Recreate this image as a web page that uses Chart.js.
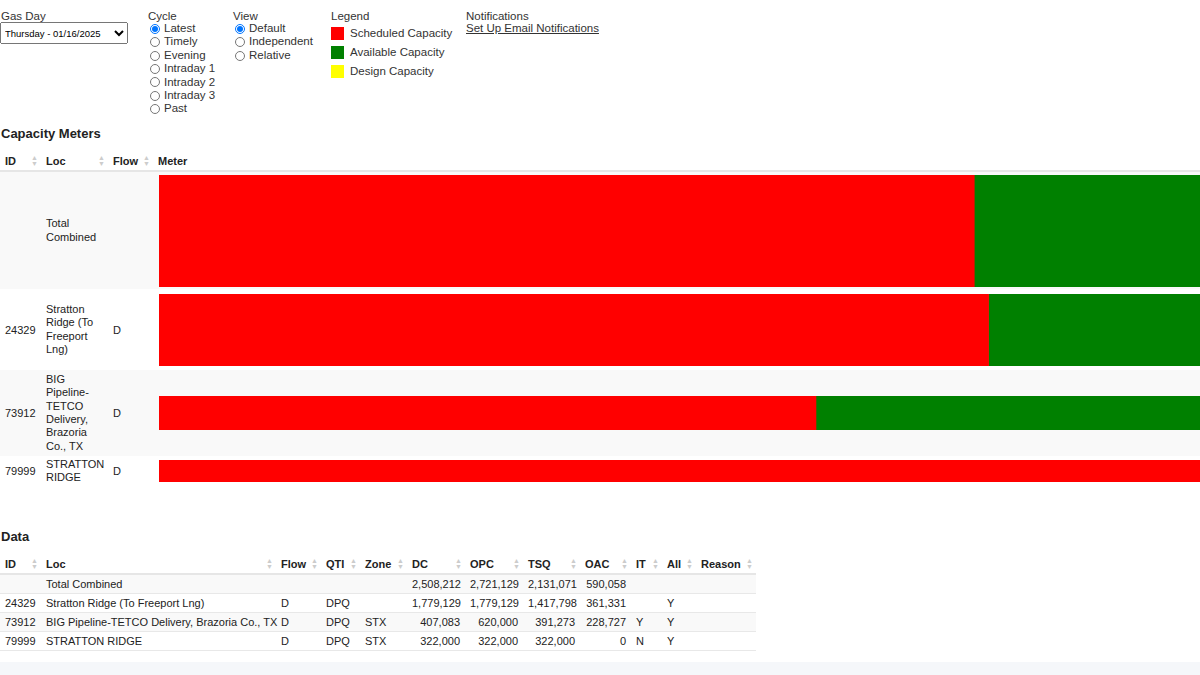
<!DOCTYPE html>
<html>
<head>
<meta charset="utf-8">
<script src="https://cdn.jsdelivr.net/npm/chart.js@4/dist/chart.umd.min.js"></script>
<style>
  body { margin: 0; font-family: "Liberation Sans", Arial, sans-serif; font-size: 11px; color: #222; width: 1200px; height: 675px; overflow: hidden; position: relative; background: #fff; }
  .abs { position: absolute; }
  .lbl { font-size: 11.5px; color: #333; }
  .opt { font-size: 11.5px; color: #333; line-height: 13.4px; display: flex; align-items: center; }
  .opt input { margin: 0 4px 0 2px; width: 10px; height: 10px; }
  select { font-size: 9.5px; width: 128px; height: 22px; font-family: inherit; }
  .sw { display: inline-block; width: 13px; height: 13px; margin-right: 6px; vertical-align: middle; }
  h3 { margin: 0; font-size: 13px; font-weight: bold; }
  table { border-collapse: collapse; table-layout: fixed; }
  th { text-align: left; font-weight: bold; font-size: 11px; padding: 0 5px; height: 18px; border-bottom: 2px solid #e6e6e6; position: relative; overflow: visible; }
  th .ar { position: absolute; right: 3px; top: 3px; color: #ccc; font-size: 7px; line-height: 6px; }
  td { font-size: 11px; padding: 0 5px; white-space: nowrap; }
  .striped { background: #f9f9f9; }
  #meters td { border-bottom: 2px solid #fff; vertical-align: middle; white-space: normal; }
  #data td { height: 18px; border-bottom: 1px solid #e8e8e8; }
  #data td.n { text-align: right; }
</style>
</head>
<body>
<div class="abs lbl" style="left:1px;top:10px">Gas Day</div>
<div class="abs" style="left:0;top:22px"><select><option>Thursday - 01/16/2025</option></select></div>

<div class="abs" style="left:148px;top:10px">
  <div class="lbl">Cycle</div>
  <div id="cycles"></div>
</div>
<div class="abs" style="left:233px;top:10px">
  <div class="lbl">View</div>
  <div id="views"></div>
</div>
<div class="abs" style="left:331px;top:10px">
  <div class="lbl">Legend</div>
  <div style="margin-top:2px;font-size:11.5px;color:#333;line-height:19px">
    <div><span class="sw" style="background:#ff0000"></span>Scheduled Capacity</div>
    <div><span class="sw" style="background:#008000"></span>Available Capacity</div>
    <div><span class="sw" style="background:#ffff00"></span>Design Capacity</div>
  </div>
</div>
<div class="abs" style="left:466px;top:10px">
  <div class="lbl">Notifications</div>
  <div class="lbl" style="text-decoration:underline">Set Up Email Notifications</div>
</div>

<h3 class="abs" style="left:1px;top:126px">Capacity Meters</h3>
<table id="meters" class="abs" style="left:0;top:152px;width:1220px">
  <colgroup><col style="width:41px"><col style="width:67px"><col style="width:45px"><col></colgroup>
  <thead><tr>
    <th>ID<span class="ar">▲<br>▼</span></th>
    <th>Loc<span class="ar">▲<br>▼</span></th>
    <th>Flow<span class="ar">▲<br>▼</span></th>
    <th>Meter</th>
  </tr></thead>
  <tbody id="meterBody"></tbody>
</table>

<h3 class="abs" style="left:1px;top:529px">Data</h3>
<table id="data" class="abs" style="left:0;top:555px;width:756px">
  <colgroup>
    <col style="width:41px"><col style="width:235px"><col style="width:45px"><col style="width:39px">
    <col style="width:47px"><col style="width:58px"><col style="width:58px"><col style="width:57px">
    <col style="width:51px"><col style="width:31px"><col style="width:34px"><col style="width:60px">
  </colgroup>
  <thead><tr>
    <th>ID<span class="ar">▲<br>▼</span></th>
    <th>Loc<span class="ar">▲<br>▼</span></th>
    <th>Flow<span class="ar">▲<br>▼</span></th>
    <th>QTI<span class="ar">▲<br>▼</span></th>
    <th>Zone<span class="ar">▲<br>▼</span></th>
    <th>DC<span class="ar">▲<br>▼</span></th>
    <th>OPC<span class="ar">▲<br>▼</span></th>
    <th>TSQ<span class="ar">▲<br>▼</span></th>
    <th>OAC<span class="ar">▲<br>▼</span></th>
    <th>IT<span class="ar">▲<br>▼</span></th>
    <th>All<span class="ar">▲<br>▼</span></th>
    <th>Reason<span class="ar">▲<br>▼</span></th>
  </tr></thead>
  <tbody id="dataBody"></tbody>
</table>
<div class="abs" style="left:0;top:662px;width:1200px;height:13px;background:#f5f7fa"></div>

<script>
// ================= DATA =================
const ids = ["", "24329", "73912", "79999"];
const locs = ["Total Combined", "Stratton Ridge (To Freeport Lng)", "BIG Pipeline-TETCO Delivery, Brazoria Co., TX", "STRATTON RIDGE"];
const meterLocs = ["Total<br>Combined", "Stratton<br>Ridge (To<br>Freeport<br>Lng)", "BIG<br>Pipeline-<br>TETCO<br>Delivery,<br>Brazoria<br>Co., TX", "STRATTON<br>RIDGE"];
const flows = ["", "D", "D", "D"];
const qtis = ["", "DPQ", "DPQ", "DPQ"];
const zones = ["", "", "STX", "STX"];
const dc = [2508212, 1779129, 407083, 322000];
const opc = [2721129, 1779129, 620000, 322000];
const tsq = [2131071, 1417798, 391273, 322000];
const oac = [590058, 361331, 228727, 0];
const its = ["", "", "Y", "N"];
const alls = ["", "Y", "Y", "Y"];

// row layout for meter rows
const rowHeights = [119, 79, 88, 28];
const barHeights = [112, 72, 34, 22];

// ================= CONTROLS =================
const cycles = ["Latest", "Timely", "Evening", "Intraday 1", "Intraday 2", "Intraday 3", "Past"];
document.getElementById("cycles").innerHTML = cycles.map((c, i) =>
  `<div class="opt"><input type="radio" name="cy" ${i == 0 ? "checked" : ""}>${c}</div>`).join("");
const views = ["Default", "Independent", "Relative"];
document.getElementById("views").innerHTML = views.map((c, i) =>
  `<div class="opt"><input type="radio" name="vw" ${i == 0 ? "checked" : ""}>${c}</div>`).join("");

// ================= METERS =================
const fmt = n => n.toLocaleString("en-US");
let mb = "";
ids.forEach((id, i) => {
  mb += `<tr class="${i % 2 == 0 ? "striped" : ""}" style="height:${rowHeights[i]}px">
    <td>${id}</td><td style="line-height:13.4px">${meterLocs[i]}</td><td>${flows[i]}</td>
    <td style="padding:0 0 0 6px"><div style="width:1041px;height:${barHeights[i]}px"><canvas id="m${i}"></canvas></div></td></tr>`;
});
document.getElementById("meterBody").innerHTML = mb;

ids.forEach((id, i) => {
  new Chart(document.getElementById("m" + i), {
    type: "bar",
    data: {
      labels: [""],
      datasets: [
        { label: "Scheduled Capacity", data: [tsq[i]], backgroundColor: "#ff0000" },
        { label: "Available Capacity", data: [oac[i]], backgroundColor: "#008000" }
      ]
    },
    options: {
      indexAxis: "y",
      responsive: true,
      maintainAspectRatio: false,
      animation: false,
      layout: { padding: 0 },
      datasets: { bar: { barPercentage: 1, categoryPercentage: 1, borderWidth: 0 } },
      plugins: { legend: { display: false }, tooltip: { enabled: false } },
      scales: {
        x: { stacked: true, min: 0, max: opc[i], display: false },
        y: { stacked: true, display: false }
      }
    }
  });
});

// ================= DATA TABLE =================
document.getElementById("dataBody").innerHTML = ids.map((id, i) => `<tr class="${i % 2 == 0 ? "striped" : ""}">
  <td>${id}</td><td>${locs[i]}</td><td>${flows[i]}</td><td>${qtis[i]}</td><td>${zones[i]}</td>
  <td class="n">${fmt(dc[i])}</td><td class="n">${fmt(opc[i])}</td><td class="n">${fmt(tsq[i])}</td>
  <td class="n">${fmt(oac[i])}</td><td>${its[i]}</td><td>${alls[i]}</td><td></td></tr>`).join("");
</script>
</body>
</html>
